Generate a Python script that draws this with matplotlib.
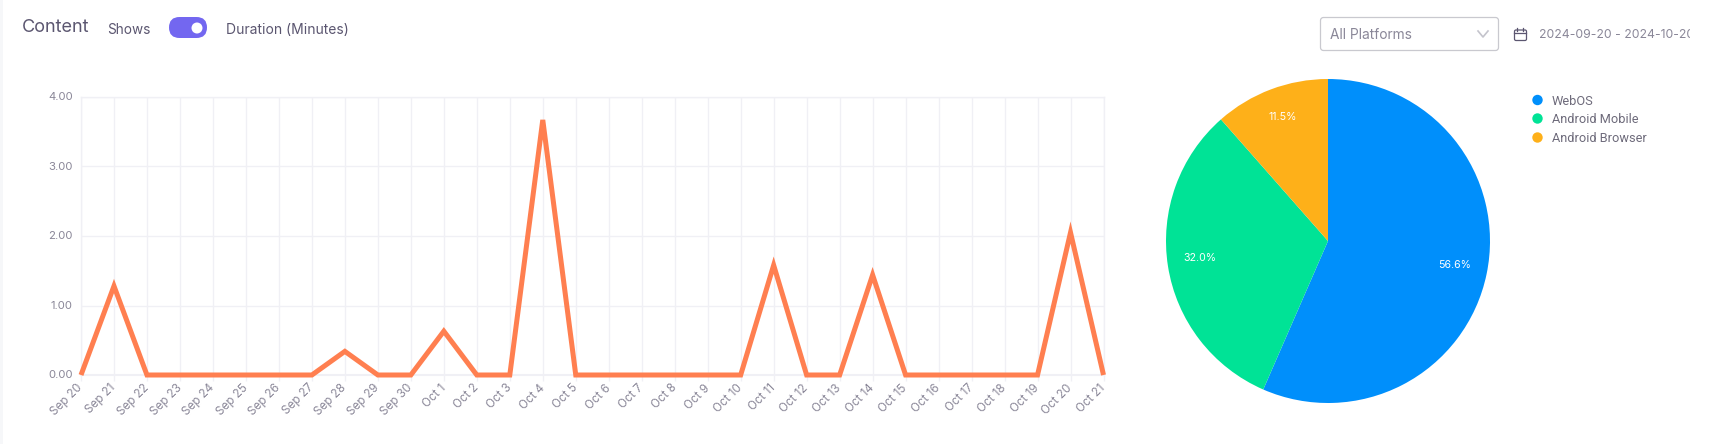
import matplotlib
matplotlib.use('Agg')
from matplotlib import pyplot as plt
from matplotlib.patches import Circle, FancyBboxPatch, Rectangle

WIDTH = 1715
HEIGHT = 444

dates = ["Sep 20", "Sep 21", "Sep 22", "Sep 23", "Sep 24", "Sep 25", "Sep 26", "Sep 27",
         "Sep 28", "Sep 29", "Sep 30", "Oct 1", "Oct 2", "Oct 3", "Oct 4", "Oct 5",
         "Oct 6", "Oct 7", "Oct 8", "Oct 9", "Oct 10", "Oct 11", "Oct 12", "Oct 13",
         "Oct 14", "Oct 15", "Oct 16", "Oct 17", "Oct 18", "Oct 19", "Oct 20", "Oct 21"]
duration = [0, 1.28, 0, 0, 0, 0, 0, 0,
            0.34, 0, 0, 0.63, 0, 0, 3.67, 0,
            0, 0, 0, 0, 0, 1.58, 0, 0,
            1.44, 0, 0, 0, 0, 0, 2.05, 0]
y_ticks = [0, 1, 2, 3, 4]

platforms = ["WebOS", "Android Mobile", "Android Browser"]
shares = [56.6, 32.0, 11.5]
share_labels = ["56.6%", "32.0%", "11.5%"]
pie_colors = ["#008ffb", "#00e396", "#feb019"]

TEXT = "#5b5670"
GREY = "#8a8798"
GRID = "#f0f0f5"


def axes_from_pixels(fig, left, top, right, bottom):
    return fig.add_axes([left / WIDTH, 1 - bottom / HEIGHT, (right - left) / WIDTH, (bottom - top) / HEIGHT])


def draw_header(fig):
    ax = fig.add_axes([0, 0, 1, 1])
    ax.set_xlim(0, WIDTH)
    ax.set_ylim(HEIGHT, 0)
    ax.axis("off")

    # page background strip on the left edge
    ax.add_patch(Rectangle((0, 0), 3, HEIGHT, color="#f6f7f9", lw=0))

    ax.text(22, 27, "Content", fontsize=13, color=TEXT, family="Inter", va="center")
    ax.text(107, 29.5, "Shows", fontsize=9.8, color=TEXT, family="Inter", va="center")
    ax.text(226, 29.5, "Duration (Minutes)", fontsize=10, color=TEXT, family="Inter", va="center")

    # toggle
    ax.add_patch(FancyBboxPatch((169, 17), 38, 21, boxstyle="round,pad=0,rounding_size=10.5",
                                fc="#7367f0", lw=0))
    ax.add_patch(Circle((197, 28), 5.5, fc="white", lw=0))

    # platform dropdown
    ax.add_patch(FancyBboxPatch((1320.5, 17.5), 178, 33, boxstyle="round,pad=0,rounding_size=3",
                                fc="white", ec="#c9c9cf", lw=0.9))
    ax.text(1330, 35, "All Platforms", fontsize=9.9, color=GREY, family="Inter", va="center")
    ax.plot([1478, 1483, 1488], [31, 37, 31], color="#c4c4cc", lw=1.2)

    # calendar icon
    ax.add_patch(FancyBboxPatch((1514.5, 30), 12, 10.5, boxstyle="round,pad=0,rounding_size=1.5",
                                fc="none", ec=TEXT, lw=0.9))
    ax.plot([1514.5, 1526.5], [33.5, 33.5], color=TEXT, lw=0.9)
    ax.plot([1517.5, 1517.5], [28, 31], color=TEXT, lw=0.9)
    ax.plot([1523.5, 1523.5], [28, 31], color=TEXT, lw=0.9)

    date_range = ax.text(1539, 34.5, "2024-09-20 - 2024-10-20", fontsize=8.8, color=GREY,
                         family="Inter", va="center", clip_on=True)
    date_range.set_clip_path(Rectangle((0, 0), 1690, HEIGHT, transform=ax.transData))

    # pie legend
    for i in range(len(platforms)):
        y = [100, 118.5, 137.5][i]
        ax.add_patch(Circle((1537.5, y), 5.2, fc=pie_colors[i], lw=0))
        ax.text(1552, y + 1, platforms[i], fontsize=9.2, color="#6e6b7b", family="Roboto", va="center")


def plot_duration(fig):
    ax = axes_from_pixels(fig, 81, 97, 1103.5, 375)
    ax.set_xlim(0, len(dates) - 1)
    ax.set_ylim(0, 4)
    ax.plot(range(len(dates)), duration, color="#ff7f50", lw=3.6, clip_on=False,
            solid_joinstyle="miter", solid_capstyle="butt", zorder=3)

    ax.set_xticks(range(len(dates)))
    ax.set_xticklabels(dates, rotation=45, ha="right", va="center", rotation_mode="anchor",
                       fontsize=8.4, color=GREY, family="Inter")
    ax.set_yticks(y_ticks)
    ax.set_yticklabels(["%.2f" % v for v in y_ticks], fontsize=8.2, color=GREY, family="Inter",
                       va="center")
    ax.tick_params(axis="x", length=4, width=1, color=GRID, pad=4)
    ax.tick_params(axis="y", length=0, pad=6)
    ax.grid(True, color=GRID, lw=1)
    ax.set_axisbelow(True)
    for side in ax.spines:
        ax.spines[side].set_color(GRID)
        ax.spines[side].set_linewidth(1)
    ax.spines["bottom"].set_linewidth(1.5)


def plot_platforms(fig):
    ax = axes_from_pixels(fig, 1166, 79, 1490, 403)
    wedges, names, pct = ax.pie(shares, colors=pie_colors, startangle=90, counterclock=False,
                                radius=1, autopct="%.1f%%", pctdistance=0.80,
                                textprops={"color": "white", "fontsize": 7.6, "family": "Inter"})
    # the readings add up to 100.1, so keep the printed labels as read
    for text, label in zip(pct, share_labels):
        text.set_text(label)
        text.set_y(text.get_position()[1] + 0.016)
    ax.set_xlim(-1, 1)
    ax.set_ylim(-1, 1)


def execute():
    fig = plt.figure(figsize=(WIDTH / 100, HEIGHT / 100), dpi=100, facecolor="white")
    draw_header(fig)
    plot_duration(fig)
    plot_platforms(fig)
    fig.savefig("out.png", dpi=100)


if __name__ == "__main__":
    execute()
